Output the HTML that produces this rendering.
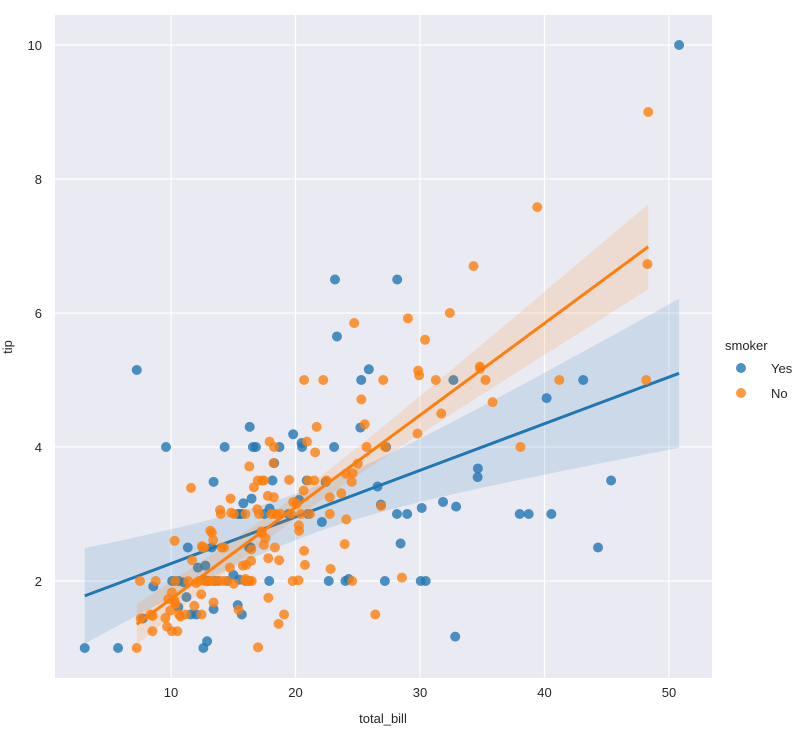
<!DOCTYPE html>
<html><head><meta charset="utf-8"><style>
body{margin:0;background:#fff;font-family:"Liberation Sans",sans-serif;}
svg text{font-family:"Liberation Sans",sans-serif;fill:#262626;}
</style></head><body>
<svg id="chart" width="803" height="736" viewBox="0 0 803 736" xmlns="http://www.w3.org/2000/svg"></svg>
<script>
const xTicks=[10,20,30,40,50];
const yTicks=[2,4,6,8,10];
const groups=["Yes","No"];
const yesBill=[38.01,11.24,20.29,13.81,11.02,18.29,3.07,15.01,26.86,25.28,17.92,19.44,32.68,28.97,5.75,16.32,40.17,27.28,12.03,21.01,11.35,15.38,44.3,22.42,15.36,20.49,25.21,14.31,16.0,17.51,10.59,10.63,50.81,15.81,7.25,31.85,16.82,32.9,17.89,14.48,9.6,34.63,34.65,23.33,45.35,23.17,40.55,20.9,30.46,18.15,23.1,15.69,19.81,28.44,15.48,16.58,10.34,43.11,13.0,13.51,18.71,12.74,13.0,16.4,20.53,16.47,26.59,38.73,24.27,12.76,30.06,25.89,13.27,28.17,12.9,28.15,11.59,7.74,30.14,12.16,13.42,8.58,13.42,16.27,10.09,22.12,24.01,15.69,15.53,12.6,32.83,27.18,22.67];
const yesTip=[3.0,1.76,3.21,2.0,1.98,3.76,1.0,2.09,3.14,5.0,3.08,3.0,5.0,3.0,1.0,4.3,4.73,4.0,1.5,3.0,2.5,3.0,2.5,3.48,1.64,4.06,4.29,4.0,2.0,3.0,1.61,2.0,10.0,3.16,5.15,3.18,4.0,3.11,2.0,2.0,4.0,3.55,3.68,5.65,3.5,6.5,3.0,3.5,2.0,3.5,4.0,1.5,4.19,2.56,2.02,4.0,2.0,5.0,2.0,2.0,4.0,2.01,2.0,2.5,4.0,3.23,3.41,3.0,2.03,2.23,2.0,5.16,2.5,6.5,1.1,3.0,1.5,1.44,3.09,2.2,3.48,1.92,1.58,2.5,2.0,2.88,2.0,3.0,3.0,1.0,1.17,2.0,2.0];
const noBill=[16.99,10.34,21.01,23.68,24.59,25.29,8.77,26.88,15.04,14.78,10.27,35.26,15.42,18.43,14.83,21.58,10.33,16.29,16.97,20.65,17.92,20.29,15.77,39.42,19.82,17.81,13.37,12.69,21.7,19.65,9.55,18.35,15.06,20.69,17.78,24.06,16.31,16.93,18.69,31.27,16.04,17.46,13.94,9.68,30.4,18.29,22.23,32.4,28.55,18.04,12.54,10.29,34.81,9.94,25.56,19.49,26.41,48.27,17.59,20.08,16.45,20.23,12.02,17.07,14.73,10.51,27.2,22.76,17.29,16.66,10.07,15.98,34.83,13.03,18.28,24.71,21.16,22.49,22.75,12.46,20.92,18.24,14.0,7.25,38.07,23.95,25.71,17.31,29.93,10.65,12.43,24.08,11.69,13.42,14.26,15.95,12.48,29.8,8.52,14.52,11.38,22.82,19.08,20.27,11.17,12.26,18.26,8.51,10.33,14.15,13.16,17.47,34.3,41.19,27.05,16.43,8.35,18.64,11.87,9.78,7.51,14.07,13.13,17.26,24.55,19.77,29.85,48.17,25.0,13.39,16.49,21.5,12.66,16.21,13.81,24.52,20.76,31.71,20.69,7.56,48.33,15.98,20.45,13.28,11.61,10.77,10.07,35.83,29.03,17.82,18.78];
const noTip=[1.01,1.66,3.5,3.31,3.61,4.71,2.0,3.12,1.96,3.23,1.71,5.0,1.57,3.0,3.02,3.92,1.67,3.71,3.5,3.35,4.08,2.75,2.23,7.58,3.18,2.34,2.0,2.0,4.3,3.0,1.45,2.5,3.0,2.45,3.27,3.6,2.0,3.07,2.31,5.0,2.24,2.54,3.06,1.32,5.6,3.0,5.0,6.0,2.05,3.0,2.5,2.6,5.2,1.56,4.34,3.51,1.5,6.73,2.64,3.15,2.47,2.01,1.97,3.0,2.2,1.25,4.0,3.0,2.71,3.4,1.83,2.03,5.17,2.0,4.0,5.85,3.0,3.5,3.25,1.5,4.08,3.76,3.0,1.0,4.0,2.55,4.0,3.5,5.07,1.5,1.8,2.92,2.31,1.68,2.5,2.0,2.52,4.2,1.48,2.0,2.0,2.18,1.5,2.83,1.5,2.0,3.25,1.25,2.0,2.0,2.75,3.5,6.7,5.0,5.0,2.3,1.5,1.36,1.63,1.73,2.0,2.5,2.0,2.74,2.0,2.0,5.14,5.0,3.75,2.61,2.0,3.5,2.5,2.0,2.0,3.48,2.24,4.5,5.0,1.44,9.0,3.0,3.0,2.72,3.39,1.47,1.25,4.67,5.92,1.75,3.0];
const seriesData={Yes:[yesBill,yesTip],No:[noBill,noTip]};

const L=55,R=712,T=15,B=678;
const sx=v=>46.5+v*12.45, sy=v=>715-v*67;
const svg=document.getElementById('chart');
const NS="http://www.w3.org/2000/svg";
function mk(tag,attrs,parent){const e=document.createElementNS(NS,tag);for(const k in attrs)e.setAttribute(k,attrs[k]);(parent||svg).appendChild(e);return e;}
const bg=mk('rect',{x:L,y:T,width:R-L,height:B-T,fill:'#eaeaf2'});


xTicks.forEach(t=>{const l=mk('line',{x1:sx(t),x2:sx(t),y1:T,y2:B,stroke:'#fff','stroke-width':1.2});


const tx=mk('text',{x:sx(t),y:B+19,'text-anchor':'middle','font-size':13});tx.textContent=t;

});
yTicks.forEach(t=>{const l=mk('line',{x1:L,x2:R,y1:sy(t),y2:sy(t),stroke:'#fff','stroke-width':1.2});


const tx=mk('text',{x:L-13,y:sy(t)+5,'text-anchor':'end','font-size':13});tx.textContent=t;

});
const colors={Yes:'#1f77b4',No:'#ff7f0e'};
const tcrit=2.7;
groups.forEach(g=>{
 const xs=seriesData[g][0],ys=seriesData[g][1];
 const n=xs.length,mx=xs.reduce((a,b)=>a+b)/n,my=ys.reduce((a,b)=>a+b)/n;
 let sxx=0,sxy=0;xs.forEach((x,i)=>{sxx+=(x-mx)**2;sxy+=(x-mx)*(ys[i]-my);});
 const b1=sxy/sxx,b0=my-b1*mx;let sse=0;xs.forEach((x,i)=>{sse+=(ys[i]-b0-b1*x)**2;});
 const s=Math.sqrt(sse/(n-2));
 const x0=Math.min(...xs),x1=Math.max(...xs);
 const up=[],lo=[];
 for(let k=0;k<=60;k++){const x=x0+(x1-x0)*k/60,yh=b0+b1*x,h=tcrit*s*Math.sqrt(1/n+(x-mx)**2/sxx);
  up.push(sx(x)+','+sy(yh+h));lo.unshift(sx(x)+','+sy(yh-h));}
 const gp=mk('g',{});
 
 
 xs.forEach((x,i)=>{const c=mk('circle',{cx:sx(x),cy:sy(ys[i]),r:5,fill:colors[g],'fill-opacity':0.8},gp);
  
  });
 const band=mk('polygon',{points:up.concat(lo).join(' '),fill:colors[g],'fill-opacity':0.15},gp);
 
 
 const ln=mk('line',{x1:sx(x0),y1:sy(b0+b1*x0),x2:sx(x1),y2:sy(b0+b1*x1),stroke:colors[g],'stroke-width':3},gp);
 
 
});
const xl=mk('text',{x:383,y:723,'text-anchor':'middle','font-size':13});xl.textContent='total_bill';


const yl=mk('text',{x:12,y:347,'text-anchor':'middle','font-size':13,transform:'rotate(-90 12 347)'});yl.textContent='tip';


const lt=mk('text',{x:725,y:350,'font-size':13});lt.textContent='smoker';


groups.forEach((g,i)=>{const c=mk('circle',{cx:741,cy:368+i*25,r:5,fill:colors[g],'fill-opacity':0.8});
 
 
 const t=mk('text',{x:771,y:373+i*25,'font-size':13});t.textContent=g;
 
 });
</script>
</body></html>
